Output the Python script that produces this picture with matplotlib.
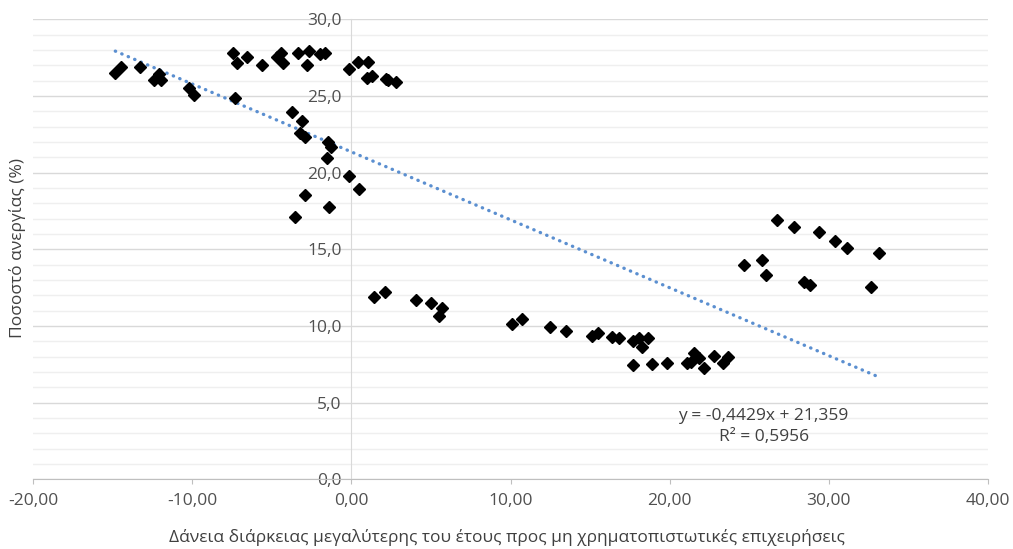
import matplotlib
matplotlib.use("Agg")
import matplotlib.pyplot as plt
from matplotlib.ticker import MultipleLocator, FuncFormatter

plt.rcParams["font.family"] = ["Open Sans", "DejaVu Sans"]

# loans (x) vs unemployment rate (y)
loans = [
    -14.83, -14.45, -13.26, -12.42, -12.11, -11.96, -10.22, -9.86,
    -7.43, -7.18, -6.55, -5.61, -7.33, -4.67, -4.42, -4.31, -3.36, -2.78,
    -2.63, -1.94, -1.67, -0.16, 0.43, 1.06, 0.99, 1.31, 2.15, 2.31, 2.78,
    -3.72, -3.09, -3.24, -2.92, -1.46, -1.27, -1.56, -0.16, -2.92, -1.42,
    -3.51, 0.47,
    1.42, 2.11, 4.04, 4.98, 5.71, 5.50, 10.11, 10.74, 12.47, 13.47, 15.11,
    15.50, 16.40, 16.82, 17.72, 18.08, 18.29, 18.67, 17.72, 18.92, 19.82,
    21.12, 21.50, 21.86, 22.17, 22.80, 23.32, 23.64, 21.33,
    24.64, 25.80, 26.05, 26.74, 27.83, 28.42, 28.82, 29.40, 30.39, 31.14,
    32.65, 33.18,
]
unemployment = [
    26.48, 26.87, 26.91, 26.04, 26.43, 26.04, 25.54, 25.05,
    27.78, 27.17, 27.52, 27.02, 24.85, 27.56, 27.78, 27.13, 27.78, 27.02,
    27.95, 27.72, 27.78, 26.74, 27.24, 27.24, 26.15, 26.32, 26.11, 26.04, 25.89,
    23.98, 23.37, 22.57, 22.31, 22.02, 21.69, 20.94, 19.80, 18.55, 17.74,
    17.13, 18.94,
    11.92, 12.24, 11.70, 11.49, 11.16, 10.66, 10.14, 10.46, 9.96, 9.68, 9.37,
    9.57, 9.27, 9.20, 9.05, 9.20, 8.66, 9.24, 7.46, 7.51, 7.58,
    7.58, 8.27, 7.94, 7.29, 8.07, 7.61, 7.97, 7.68,
    13.98, 14.31, 13.33, 16.92, 16.48, 12.89, 12.68, 16.15, 15.57, 15.07,
    12.53, 14.75,
]

# linear trendline shown on the chart
slope = -0.4429
intercept = 21.359
r_squared = 0.5956

GREY = "#505050"
FS = 12.5


def comma(fmt):
    return FuncFormatter(lambda v, _: format(v, fmt).replace(".", ","))


fig = plt.figure(figsize=(10.13, 5.49), dpi=100)
ax = fig.add_axes([0.0326, 0.1266, 0.9427, 0.8382])

ax.set_xlim(-20, 40)
ax.set_ylim(0, 30)

ax.yaxis.set_major_locator(MultipleLocator(5))
ax.yaxis.set_minor_locator(MultipleLocator(1))
ax.xaxis.set_major_locator(MultipleLocator(10))
ax.grid(axis="y", which="major", color="#d9d9d9", lw=1.0, zorder=0)
ax.grid(axis="y", which="minor", color="#efefef", lw=1.0, zorder=0)
ax.set_axisbelow(True)

for s in ("top", "right"):
    ax.spines[s].set_visible(False)
ax.spines["left"].set_position(("data", 0))
ax.spines["bottom"].set_position(("data", 0))
ax.spines["left"].set_color("#d9d9d9")
ax.spines["bottom"].set_color("#bfbfbf")

ax.xaxis.set_major_formatter(comma(".2f"))
ax.yaxis.set_major_formatter(comma(".1f"))
ax.tick_params(axis="x", which="major", length=3.5, color="#bfbfbf",
               labelsize=FS, labelcolor=GREY, pad=6)
ax.tick_params(axis="y", which="both", length=0, labelsize=FS,
               labelcolor=GREY, pad=7)

xs = [min(loans), max(loans)]
ax.plot(xs, [slope * x + intercept for x in xs], color="#5b8fd0", lw=2.4,
        ls=(0, (0.1, 2.0)), dash_capstyle="round", zorder=2)
ax.plot(loans, unemployment, "D", color="black", ms=5.8, zorder=3, ls="none")

eq = (f"y = {slope:.4f}x + {intercept:.3f}\nR² = {r_squared:.4f}").replace(".", ",")
ax.text(25.9, 3.45, eq, ha="center", va="center", fontsize=FS,
        color="#404040", linespacing=1.45)

fig.text(0.5, 1 - 537 / 549,
         "Δάνεια διάρκειας μεγαλύτερης του έτους προς μη χρηματοπιστωτικές επιχειρήσεις",
         ha="center", va="center", fontsize=FS, color="#404040")
fig.text(18 / 1013, 1 - 248 / 549, "Ποσοστό ανεργίας (%)", rotation=90,
         ha="center", va="center", fontsize=FS, color="#404040")

fig.savefig("out.png", dpi=100)
